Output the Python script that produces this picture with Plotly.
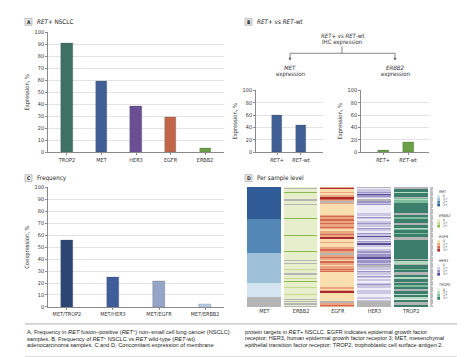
import plotly.graph_objects as go

W, H = 467, 357
def X(px): return px / W
def Y(py): return 1 - py / H

FONT = "Liberation Sans Narrow, DejaVu Sans Condensed, Arial Narrow, sans-serif"
CAPFONT = "Liberation Sans, Arial, sans-serif"
GRID = "#e3e3e3"
AXC = "#8a8a8a"
TXT = "#333333"

# ---------------- data ----------------
a_targets = ["TROP2", "MET", "HER3", "EGFR", "ERBB2"]
a_values = [91, 59, 38, 29, 3.5]
a_colors = ["#3e7163", "#3f5f95", "#6b4f95", "#c2664a", "#6aa046"]

b_groups = ["RET+", "RET-wt"]
b_group_labels = ["<i>RET</i>+", "<i>RET</i>-wt"]
b_met = [59, 43]
b_erbb2 = [3.5, 15.5]

c_pairs = ["MET/TROP2", "MET/HER3", "MET/EGFR", "MET/ERBB2"]
c_values = [56, 25, 21.5, 2.5]
c_colors = ["#2c4673", "#3f5d9b", "#95a5c8", "#b9d1e8"]

# per-sample IHC scores (x = not available), one char per sample, rows top->bottom
d_genes = ["MET", "ERBB2", "EGFR", "HER3", "TROP2"]
d_met = ("3333333333" "3333333333" "3333333222" "2222222222" "2222222222"
         "2222211111" "1111111111" "1111111111" "0000000000" "00xxxxxxxx")
d_erbb2 = ("0x00200000" "xx00x00000" "0000002000" "0000000000" "2000000000"
           "0002000000" "0x0x000010" "00x0001020" "0001000001" "000x0x0x0x")
d_egfr = ("1300100133" "21x1000000" "0001211211" "2112100112" "1130001000"
          "11211xx121" "1021101121" "2000000000" "0001101300" "00000xx121")
d_her3 = ("x011213210" "xx21200000" "0011021011" "2110211021" "1311021311"
          "0012212233" "12212xx110" "2110210100" "1211001110" "00101xxxxx")
d_trop2 = ("xx331333x2" "1223333333" "33x3322333" "xx33123323" "33xx333333"
           "3333333333" "x311x33323" "3xx331133x" "33233xx331" "331033xx33")
d_levels = {
    "MET": ["0", "1+", "2+", "3+"],
    "ERBB2": ["0", "1+", "2+"],
    "EGFR": ["0", "1+", "2+", "3+"],
    "HER3": ["0", "1+", "2+", "3+"],
    "TROP2": ["0", "1+", "2+", "3+"],
}
NA_COLOR = "#b5b5b5"
d_palettes = {
    "MET": ["#d4e4f0", "#9ec0d9", "#5387b5", "#2f5b97"],
    "ERBB2": ["#e6eecc", "#c3db8e", "#86bb4a"],
    "EGFR": ["#f9dfae", "#eba681", "#d5684f", "#a82b2e"],
    "HER3": ["#efeef6", "#cbc7e2", "#9d95c8", "#5b4d95"],
    "TROP2": ["#e2f0e6", "#b6d9c2", "#7ebd9c", "#3b7e6b"],
}
d_rows = {"MET": d_met, "ERBB2": d_erbb2, "EGFR": d_egfr, "HER3": d_her3, "TROP2": d_trop2}

caption_left = [
    "A, Frequency in <i>RET</i> fusion–positive (<i>RET</i><sup>+</sup>) non–small cell lung cancer (NSCLC)",
    "samples. B, Frequency of <i>RET</i><sup>+</sup> NSCLC vs <i>RET</i> wild-type (<i>RET</i>-wt)",
    "adenocarcinoma samples. C and D, Concomitant expression of membrane",
]
caption_right = [
    "protein targets in <i>RET</i>+ NSCLC. EGFR indicates epidermal growth factor",
    "receptor; HER3, human epidermal growth factor receptor 3; MET, mesenchymal",
    "epithelial transition factor receptor; TROP2, trophoblastic cell surface antigen 2.",
]

# ---------------- figure ----------------
fig = go.Figure()

bar_line = dict(color="rgba(80,80,80,0.5)", width=0.5)
fig.add_trace(go.Bar(x=a_targets, y=a_values, marker=dict(color=a_colors, line=bar_line),
                     width=0.32, xaxis="x", yaxis="y"))
fig.add_trace(go.Bar(x=b_groups, y=b_met, marker=dict(color="#3f5f95", line=bar_line),
                     width=0.45, xaxis="x2", yaxis="y2"))
fig.add_trace(go.Bar(x=b_groups, y=b_erbb2, marker=dict(color="#6aa046", line=bar_line),
                     width=0.44, xaxis="x3", yaxis="y3"))
fig.add_trace(go.Bar(x=c_pairs, y=c_values, marker=dict(color=c_colors, line=bar_line),
                     width=0.245, xaxis="x4", yaxis="y4"))

# single heatmap: each gene owns a block of 5 colour slots (NA, 0, 1+, 2+, 3+)
SLOTS = 5
n_rows = len(d_met)
z = []
for r in range(n_rows):
    row = []
    for gi, g in enumerate(d_genes):
        ch = d_rows[g][r]
        lvl = 0 if ch == "x" else int(ch) + 1
        row.append(gi * SLOTS + lvl)
    z.append(row)
ncol = len(d_genes) * SLOTS
cs = []
for gi, g in enumerate(d_genes):
    cols = [NA_COLOR] + d_palettes[g]
    cols = cols + [cols[-1]] * (SLOTS - len(cols))
    for k, c in enumerate(cols):
        i = gi * SLOTS + k
        cs.append([i / ncol, c])
        cs.append([(i + 1) / ncol, c])
fig.add_trace(go.Heatmap(x=d_genes, y=list(range(n_rows)), z=z, zmin=-0.5, zmax=ncol - 0.5,
                         colorscale=cs, showscale=False, xgap=3, ygap=0, hoverinfo="skip",
                         xaxis="x5", yaxis="y5"))

tickf = dict(family=FONT, size=5.5, color=TXT)
titf = dict(family=FONT, size=5.8, color=TXT)

def yax(domain, dtick, title, anchor):
    return dict(domain=domain, range=[0, 100], dtick=dtick, anchor=anchor, showgrid=True,
                gridcolor=GRID, gridwidth=0.6, zeroline=False, showline=True, linecolor=AXC,
                linewidth=0.7, ticks="outside", ticklen=2, tickwidth=0.6, tickcolor=AXC,
                tickfont=tickf, title=dict(text=title, font=titf, standoff=4), fixedrange=True)

def xax(domain, rng, anchor, ticktext=None, tickvals=None):
    d = dict(domain=domain, range=rng, anchor=anchor, showgrid=False, zeroline=False,
             showline=True, linecolor=AXC, linewidth=0.7, ticks="outside", ticklen=2,
             tickwidth=0.6, tickcolor=AXC, tickfont=tickf, fixedrange=True)
    if ticktext is not None:
        d.update(tickmode="array", tickvals=tickvals, ticktext=ticktext)
    return d

fig.update_layout(
    width=W, height=H, margin=dict(l=0, r=0, t=0, b=0),
    paper_bgcolor="white", plot_bgcolor="white", showlegend=False,
    font=dict(family=FONT, color=TXT),
    bargap=0,
    xaxis=xax([X(40), X(216)], [-0.55, 4.55], "y"),
    yaxis=yax([Y(143.7), Y(21.7)], 10, "Expression, %", "x"),
    xaxis2=xax([X(248), X(315)], [-0.875, 1.917], "y2", b_group_labels, b_groups),
    yaxis2=yax([Y(143.7), Y(80.7)], 20, "Expression, %", "x2"),
    xaxis3=xax([X(353), X(421)], [-0.88, 1.84], "y3", b_group_labels, b_groups),
    yaxis3=yax([Y(143.7), Y(80.7)], 20, "Expression, %", "x3"),
    xaxis4=xax([X(40), X(216)], [-0.41, 3.41], "y4"),
    yaxis4=yax([Y(301), Y(179.3)], 10, "Coexpression, %", "x4"),
    xaxis5=dict(domain=[X(238), X(421.5)], anchor="y5", showgrid=False, zeroline=False,
                showline=False, ticks="", tickfont=tickf, categoryorder="array",
                categoryarray=d_genes, fixedrange=True),
    yaxis5=dict(domain=[Y(301), Y(179)], anchor="x5", range=[n_rows - 0.5, -0.5],
                side="right", showgrid=False, zeroline=False, showline=True,
                linecolor="#c8c8c8", linewidth=1.5, ticks="outside", ticklen=1.5,
                tickwidth=0.4, tickcolor="#bdbdbd", dtick=1, showticklabels=False,
                fixedrange=True),
)

shapes = []
ann = []

def panel_label(letter, x0, y0, title):
    shapes.append(dict(type="rect", xref="paper", yref="paper", x0=X(x0), x1=X(x0 + 7),
                       y0=Y(y0 + 7), y1=Y(y0), line=dict(color="#999", width=0.6),
                       fillcolor="#ececec"))
    ann.append(dict(x=X(x0 + 3.5), y=Y(y0 + 3.6), xref="paper", yref="paper", text="<b>%s</b>" % letter,
                    showarrow=False, xanchor="center", yanchor="middle",
                    font=dict(family=FONT, size=5, color="#222")))
    ann.append(dict(x=X(x0 + 10), y=Y(y0 + 3.6), xref="paper", yref="paper", text=title,
                    showarrow=False, xanchor="left", yanchor="middle",
                    font=dict(family=FONT, size=6.3, color="#222")))

panel_label("A", 17, 7.5, "<i>RET</i>+ NSCLC")
panel_label("B", 237, 7.5, "<i>RET</i>+ vs <i>RET</i>-wt")
panel_label("C", 17, 166.5, "Frequency")
panel_label("D", 237, 166.5, "Per sample level")

# B header tree
hf = dict(family=FONT, size=6, color=TXT)
ann.append(dict(x=X(334), y=Y(24.5), xref="paper", yref="paper", text="<i>RET</i>+ vs <i>RET</i>-wt",
                showarrow=False, font=hf, xanchor="center", yanchor="middle"))
ann.append(dict(x=X(334), y=Y(31.8), xref="paper", yref="paper", text="IHC expression",
                showarrow=False, font=hf, xanchor="center", yanchor="middle"))
lc = dict(color="#555", width=0.7)
shapes.append(dict(type="line", xref="paper", yref="paper", x0=X(334), x1=X(334), y0=Y(36), y1=Y(43), line=lc))
shapes.append(dict(type="line", xref="paper", yref="paper", x0=X(282), x1=X(387), y0=Y(43), y1=Y(43), line=lc))
for xx, gene in [(282, "MET"), (387, "ERBB2")]:
    shapes.append(dict(type="line", xref="paper", yref="paper", x0=X(xx), x1=X(xx), y0=Y(43), y1=Y(48), line=lc))
    shapes.append(dict(type="path", xref="paper", yref="paper",
                       path="M %f %f L %f %f L %f %f Z" % (X(xx - 1.4), Y(47.5), X(xx + 1.4), Y(47.5), X(xx), Y(50.5)),
                       line=dict(width=0), fillcolor="#555"))
    ann.append(dict(x=X(xx), y=Y(57), xref="paper", yref="paper", text="<i>%s</i>" % gene,
                    showarrow=False, font=hf, xanchor="center", yanchor="middle"))
    ann.append(dict(x=X(xx), y=Y(64.3), xref="paper", yref="paper", text="expression",
                    showarrow=False, font=hf, xanchor="center", yanchor="middle"))

# heatmap legend
ly = 183.3
for g in d_genes:
    ann.append(dict(x=X(429), y=Y(ly), xref="paper", yref="paper", text="<i>%s</i>" % g,
                    showarrow=False, xanchor="left", yanchor="middle",
                    font=dict(family=FONT, size=3.8, color="#444")))
    ly += 5
    for lvl, col in zip(d_levels[g], d_palettes[g]):
        shapes.append(dict(type="rect", xref="paper", yref="paper", x0=X(429.3), x1=X(432),
                           y0=Y(ly + 1.4), y1=Y(ly - 1.4), line=dict(width=0), fillcolor=col))
        ann.append(dict(x=X(433), y=Y(ly), xref="paper", yref="paper", text=lvl,
                        showarrow=False, xanchor="left", yanchor="middle",
                        font=dict(family=FONT, size=3.4, color="#444")))
        ly += 3
    ly += 7.5

# caption
shapes.append(dict(type="line", xref="paper", yref="paper", x0=X(17), x1=X(449), y0=Y(318.3), y1=Y(318.3),
                   line=dict(color="#999", width=0.8)))
shapes.append(dict(type="line", xref="paper", yref="paper", x0=X(17), x1=X(449), y0=Y(352), y1=Y(352),
                   line=dict(color="#999", width=0.8)))
capf = dict(family=CAPFONT, size=5.65, color="#222")
for i, line in enumerate(caption_left):
    ann.append(dict(x=X(17), y=Y(326 + 7 * i), xref="paper", yref="paper", text=line,
                    showarrow=False, xanchor="left", yanchor="middle", font=capf))
for i, line in enumerate(caption_right):
    ann.append(dict(x=X(235), y=Y(326 + 7 * i), xref="paper", yref="paper", text=line,
                    showarrow=False, xanchor="left", yanchor="middle", font=capf))

fig.update_layout(shapes=shapes, annotations=ann)
fig.write_html("out.html")
